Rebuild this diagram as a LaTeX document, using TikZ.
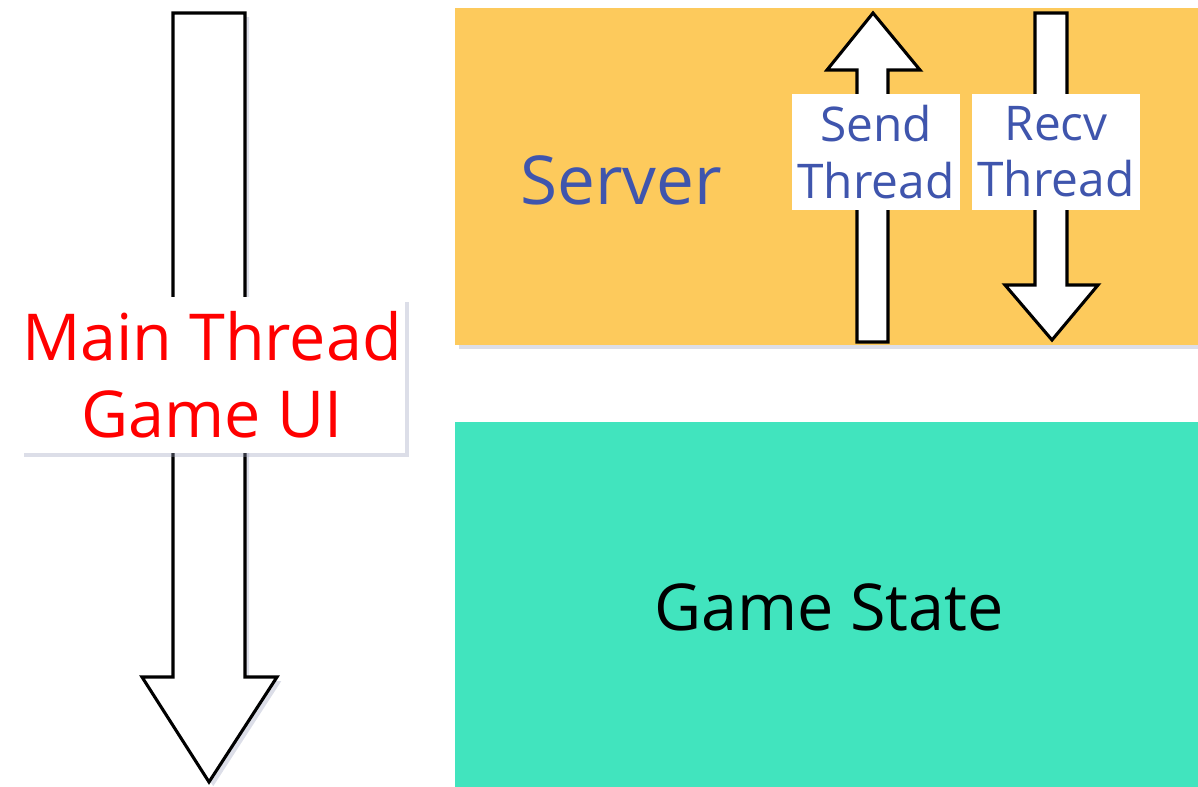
\documentclass[tikz,border=0pt]{standalone}
\usepackage{fontspec}
\setmainfont{Open Sans}
\usepackage{xcolor}
\usetikzlibrary{shadows}
\definecolor{serverbg}{HTML}{FDCA5C}
\definecolor{statebg}{HTML}{41E4BE}
\definecolor{labelblue}{HTML}{3F55AD}
\definecolor{shadowgray}{HTML}{9AA0BC}

\begin{document}
\begin{tikzpicture}[
    x=0.025cm, y=-0.025cm,
    box/.style={inner sep=0pt, outer sep=0pt},
    tag/.style={fill=white, inner sep=0pt, align=center},
    blockarrow/.style={draw=black, line width=2.2pt, fill=white, line join=miter},
    soft/.style={drop shadow={shadow xshift=3pt, shadow yshift=-3pt, opacity=0.35, fill=shadowgray}}
]
    \useasboundingbox (0,0) rectangle (1198,787);

    % Boxes
    \node[box, fill=serverbg, soft, minimum width=18.575cm, minimum height=8.425cm] (server) at (826.5,176.5) {};
    \node[box, fill=statebg, minimum width=18.575cm, minimum height=9.125cm] (state) at (826.5,604.5) {};
    \node[font=\fontsize{48}{54}\selectfont, text=labelblue] (servertxt) at (621,180) {Server};
    \node[font=\fontsize{46}{52}\selectfont, text=black] (statetxt) at (829,607) {Game State};

    % Main thread arrow
    \filldraw[blockarrow, soft] (173,13) -- (245,13) -- (245,677) -- (277,677) -- (209,782)
        -- (142,677) -- (173,677) -- cycle;
    \node[tag, soft, minimum width=9.625cm, minimum height=3.875cm,
        font=\fontsize{46}{55}\selectfont, text=red] (main) at (212,375) {Main Thread\\Game UI};

    % Send / Recv threads
    \filldraw[blockarrow] (857,342) -- (888,342) -- (888,70) -- (920,70) -- (873,13)
        -- (827,70) -- (857,70) -- cycle;
    \filldraw[blockarrow] (1035,13) -- (1067,13) -- (1067,285) -- (1098,285) -- (1052,340)
        -- (1005,285) -- (1035,285) -- cycle;
    \node[tag, minimum width=4.175cm, minimum height=2.875cm,
        font=\fontsize{34}{40}\selectfont, text=labelblue] (send) at (876,152) {Send\\Thread};
    \node[tag, minimum width=4.2cm, minimum height=2.875cm,
        font=\fontsize{34}{40}\selectfont, text=labelblue] (recv) at (1056,152) {Recv\\Thread};
\end{tikzpicture}
\end{document}
